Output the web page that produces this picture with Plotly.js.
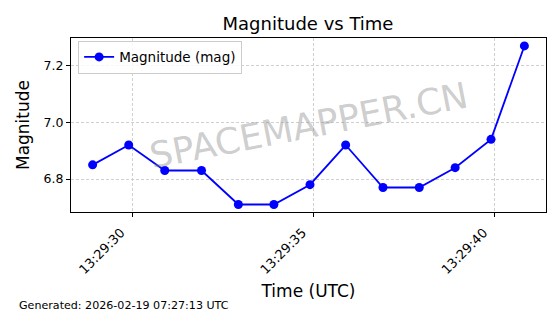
<!DOCTYPE html>
<html><head><meta charset="utf-8">
<script src="https://cdn.plot.ly/plotly-3.0.1.min.js"></script>
<style>body{margin:0;padding:0;background:#fff}#c{width:560px;height:314px}</style>
</head><body><div id="c"></div>
<script>
const times = ["2026-02-19 13:29:28.910","2026-02-19 13:29:29.906","2026-02-19 13:29:30.900","2026-02-19 13:29:31.914","2026-02-19 13:29:32.930","2026-02-19 13:29:33.910","2026-02-19 13:29:34.906","2026-02-19 13:29:35.890","2026-02-19 13:29:36.920","2026-02-19 13:29:37.920","2026-02-19 13:29:38.910","2026-02-19 13:29:39.900","2026-02-19 13:29:40.820"];
const magnitudes = [6.85,6.92,6.83,6.83,6.71,6.71,6.78,6.92,6.77,6.77,6.84,6.94,7.27];
const seriesName = "Magnitude (mag)";
const tickVals = ["2026-02-19 13:29:30","2026-02-19 13:29:35","2026-02-19 13:29:40"];
const tickText = ["13:29:30","13:29:35","13:29:40"];
const font = "DejaVu Sans, sans-serif";
const data = [{x:times,y:magnitudes,type:'scatter',mode:'lines+markers',name:seriesName,
  line:{color:'#0000ff',width:1.8},marker:{color:'#0000ff',size:9}}];
const pw=560-71-14, ph=314-38-102;
const layout = {
  width:560,height:314,margin:{l:71,r:14,t:38,b:102},
  paper_bgcolor:'#fff',plot_bgcolor:'#fff',
  font:{family:font,color:'#000'},
  title:{text:'Magnitude vs Time',font:{size:18,family:font,color:'#000'},x:0.55,xanchor:'center',y:0.925,yanchor:'middle'},
  showlegend:true,
  legend:{x:0.015,y:0.985,xanchor:'left',yanchor:'top',bgcolor:'rgba(255,255,255,0.8)',bordercolor:'#cccccc',borderwidth:1,font:{size:13.5,family:font},itemwidth:30},
  xaxis:{type:'date',range:["2026-02-19 13:29:28.314","2026-02-19 13:29:41.416"],
    tickvals:tickVals,ticktext:tickText,tickangle:-45,tickfont:{size:13,family:font},ticklabelshift:-11,ticklabelstandoff:3,
    showgrid:true,gridcolor:'#d0d0d0',griddash:'3px,2px',gridwidth:1,
    ticks:'outside',ticklen:4,tickcolor:'#000',showline:true,linecolor:'#000',linewidth:1,mirror:true,zeroline:false,
    title:{text:'Time (UTC)',font:{size:17,family:font},standoff:8}},
  yaxis:{range:[6.6835,7.298],tickvals:[6.8,7.0,7.2],ticktext:['6.8','7.0','7.2'],tickfont:{size:12.5,family:font},
    showgrid:true,gridcolor:'#d0d0d0',griddash:'3px,2px',gridwidth:1,
    ticks:'outside',ticklen:4,tickcolor:'#000',showline:true,linecolor:'#000',linewidth:1,mirror:true,zeroline:false,
    title:{text:'Magnitude',font:{size:17,family:font},standoff:9}},
  annotations:[
    {text:'SPACEMAPPER.CN',xref:'paper',yref:'paper',x:0.5,y:0.5,showarrow:false,textangle:-11,
     font:{size:36,family:font,color:'rgba(128,128,128,0.4)'}},
    {text:'Generated: 2026-02-19 07:27:13 UTC',xref:'paper',yref:'paper',x:(17-71)/pw,y:(314-102-305)/ph,xanchor:'left',yanchor:'middle',showarrow:false,
     font:{size:11.1,family:font,color:'#000'}}
  ]
};
Plotly.newPlot('c',data,layout,{staticPlot:true});
</script></body></html>
